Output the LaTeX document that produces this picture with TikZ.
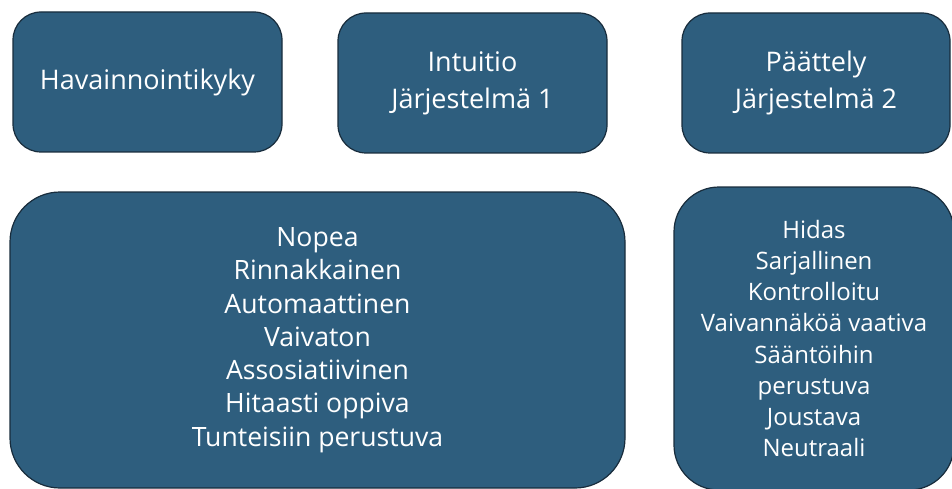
\documentclass[tikz,border=0pt]{standalone}
\usepackage{fontspec}
\setmainfont{Open Sans}
\definecolor{boxfill}{RGB}{46,94,126}
\definecolor{boxline}{RGB}{24,44,60}

\begin{document}
\begin{tikzpicture}[x=1pt,y=-1pt,
    card/.style={draw=boxline, line width=1.2pt, fill=boxfill, text=white,
        align=center, inner sep=0pt},
    headfont/.style={font=\fontsize{27}{37}\selectfont},
    listfont/.style={font=\fontsize{26.6}{33.3}\selectfont},
    smallfont/.style={font=\fontsize{24}{31.2}\selectfont}]
            \useasboundingbox (0,0) rectangle (952,489);
            \node[card, headfont, rounded corners=28pt, minimum width=269pt, minimum height=140pt]
                (havainto) at (147.5,82) {Havainnointikyky};
            \node[card, headfont, rounded corners=28pt, minimum width=269pt, minimum height=140pt]
                (intuitio) at (472.5,83) {Intuitio\\Järjestelmä 1};
            \node[card, headfont, rounded corners=28pt, minimum width=268pt, minimum height=140pt]
                (paattely) at (816,83) {Päättely\\Järjestelmä 2};
            \node[card, listfont, rounded corners=50pt, minimum width=615pt, minimum height=296pt]
                (jarj1) at (317.5,340) {Nopea\\Rinnakkainen\\Automaattinen\\Vaivaton\\Assosiatiivinen\\Hitaasti oppiva\\Tunteisiin perustuva};
            \node[card, smallfont, rounded corners=45pt, minimum width=280pt, minimum height=303pt]
                (jarj2) at (814,338.5) {Hidas\\Sarjallinen\\Kontrolloitu\\Vaivannäköä vaativa\\Sääntöihin\\perustuva\\Joustava\\Neutraali};
        \end{tikzpicture}
\end{document}
